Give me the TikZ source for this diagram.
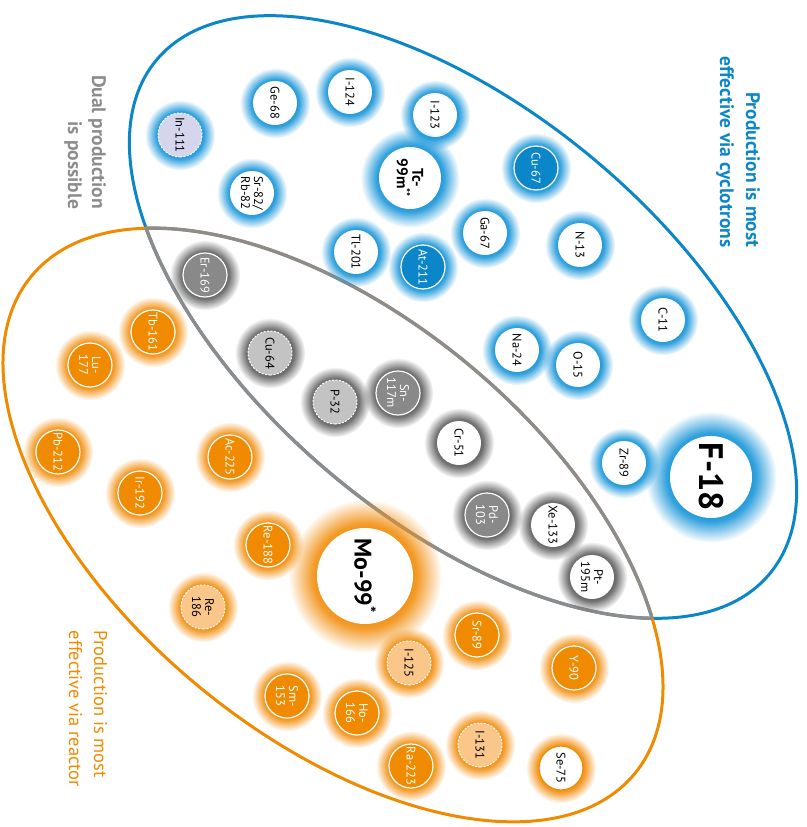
\documentclass[tikz,border=0pt]{standalone}
\usepackage{fontspec}
\setmainfont{PT Sans}
\usetikzlibrary{shadows,fadings}
\definecolor{cycblue}{RGB}{10,134,201}
\definecolor{cycglow}{RGB}{30,152,218}
\definecolor{cyclav}{RGB}{213,213,237}
\definecolor{reaorange}{RGB}{240,138,0}
\definecolor{reaglow}{RGB}{242,145,20}
\definecolor{reapale}{RGB}{251,198,138}
\definecolor{dualgray}{RGB}{140,140,140}
\definecolor{dualdark}{RGB}{138,137,138}
\definecolor{duallight}{RGB}{196,195,196}
\definecolor{dualglow}{RGB}{100,100,100}
\pgfdeclareradialshading{isoglowshade}{\pgfpointorigin}{%
  color(0bp)=(pgftransparent!0); color(15bp)=(pgftransparent!0);
  color(17bp)=(pgftransparent!10); color(21bp)=(pgftransparent!55);
  color(25bp)=(pgftransparent!100); color(50bp)=(pgftransparent!100)}
\pgfdeclarefading{isoglow}{\pgfuseshading{isoglowshade}}
\tikzset{
  iso/.style={circle, minimum size=44pt, inner sep=0pt, align=center, rotate=-90,
    font=\fontsize{12.5}{13}\selectfont},
  big/.style={minimum size=62pt, font=\fontsize{15.5}{15.5}\selectfont\bfseries},
  cyc/.style={iso, fill=white,
    general shadow={fill=cycglow, shadow scale=1.6, path fading=isoglow}},
  cycfill/.style={cyc, fill=cycblue, draw=white, line width=1.2pt, text=white},
  cycdash/.style={cyc, fill=cyclav, draw=white, line width=1pt, dash pattern=on 2pt off 1.5pt},
  dual/.style={iso, fill=white,
    general shadow={fill=dualglow, shadow scale=1.6, path fading=isoglow}},
  dualfill/.style={dual, fill=dualdark, draw=white, line width=1.2pt, text=white},
  dualdash/.style={dual, fill=duallight, draw=white, line width=1pt, dash pattern=on 2pt off 1.5pt},
  rea/.style={iso, fill=white,
    general shadow={fill=reaglow, shadow scale=1.6, path fading=isoglow}},
  reafill/.style={rea, fill=reaorange, draw=white, line width=1.2pt, text=white},
  readash/.style={rea, fill=reapale, draw=white, line width=1pt, dash pattern=on 2pt off 1.5pt},
  reaedge/.style={rea, draw=reaorange, line width=1.2pt},
  zone/.style={line width=3pt},
  heading/.style={rotate=-90, font=\fontsize{19.5}{26}\selectfont\bfseries}
}
\begin{document}
\begin{tikzpicture}[x=1pt, y=-1pt]
\useasboundingbox (0,0) rectangle (806,827);
\coordinate (cycc) at (463,317);
\coordinate (reac) at (333,525);
\draw[zone, cycblue, rotate around={-40:(cycc)}] (cycc) ellipse [x radius=400, y radius=205];
\draw[zone, reaorange, rotate around={-39.5:(reac)}] (reac) ellipse [x radius=391, y radius=210];
\begin{scope}
  \clip[rotate around={-40:(cycc)}] (cycc) ellipse [x radius=400, y radius=205];
  \draw[zone, line width=3.4pt, dualgray, rotate around={-39.5:(reac)}] (reac) ellipse [x radius=391, y radius=210];
\end{scope}
\begin{scope}
  \clip[rotate around={-39.5:(reac)}] (reac) ellipse [x radius=391, y radius=210];
  \draw[zone, line width=3.4pt, dualgray, rotate around={-40:(cycc)}] (cycc) ellipse [x radius=400, y radius=205];
\end{scope}

\node[heading, cycblue, align=right] (cyctitle) at (738,152) {Production is most\\effective via cyclotrons};
\node[heading, dualgray, align=right, font=\fontsize{19.5}{24}\selectfont\bfseries] (dualtitle) at (85,142) {Dual production\\is possible};
\node[heading, reaorange, align=left, font=\fontsize{18.5}{25}\selectfont] (reatitle) at (88,709) {Production is most\\effective via reactor};

\node[cycdash] (In111) at (180,135) {In-111};
\node[cyc] (Ge68) at (275,103) {Ge-68};
\node[cyc] (I124) at (350,92) {I-124};
\node[cyc] (I123) at (435,115) {I-123};
\node[cyc] (Sr82) at (252,193) {Sr-82/\\Rb-82};
\node[cyc, big] (Tc99m) at (410,178) {Tc-\\99m\textsuperscript{**}};
\node[cycfill] (Cu67) at (536,168) {Cu-67};
\node[cyc] (Ga67) at (485,233) {Ga-67};
\node[cyc] (Tl201) at (356,252) {Tl-201};
\node[cycfill] (At211) at (423,267) {At-211};
\node[cyc] (N13) at (580,245) {N-13};
\node[cyc] (Na24) at (517,350) {Na-24};
\node[cyc] (O15) at (578,365) {O-15};
\node[cyc] (C11) at (663,320) {C-11};
\node[cyc] (Zr89) at (624,463) {Zr-89};
\node[cyc, minimum size=82pt, font=\fontsize{34}{34}\selectfont\bfseries] (F18) at (711,477) {F-18};

\node[dualfill] (Er169) at (205,275) {Er-169};
\node[dualdash] (Cu64) at (270,353) {Cu-64};
\node[dualdash] (P32) at (335,402) {P-32};
\node[dualfill] (Sn117m) at (398,393) {Sn-\\117m};
\node[dual] (Cr51) at (459,443) {Cr-51};
\node[dualfill] (Pd103) at (487,515) {Pd-\\103};
\node[dual] (Xe133) at (553,525) {Xe-133};
\node[dual] (Pt195m) at (592,577) {Pt-\\195m};

\node[reafill] (Tb161) at (153,332) {Tb-161};
\node[reafill] (Lu177) at (90,365) {Lu-\\177};
\node[reafill] (Pb212) at (58,452) {Pb-212};
\node[reafill] (Ac225) at (230,457) {Ac-225};
\node[reafill] (Ir192) at (140,493) {Ir-192};
\node[reafill] (Re188) at (268,545) {Re-188};
\node[readash] (Re186) at (203,607) {Re-\\186};
\node[rea, minimum size=96pt, font=\fontsize{24}{24}\selectfont\bfseries] (Mo99) at (365,576) {Mo-99\textsuperscript{*}};
\node[reafill] (Sr89) at (477,635) {Sr-89};
\node[readash] (I125) at (409,663) {I-125};
\node[reafill] (Y90) at (574,668) {Y-90};
\node[reafill] (Sm153) at (287,696) {Sm-\\153};
\node[reafill] (Ho166) at (357,713) {Ho-\\166};
\node[reafill] (Ra223) at (411,766) {Ra-223};
\node[readash] (I131) at (480,745) {I-131};
\node[reaedge] (Se75) at (561,768) {Se-75};
\end{tikzpicture}
\end{document}
